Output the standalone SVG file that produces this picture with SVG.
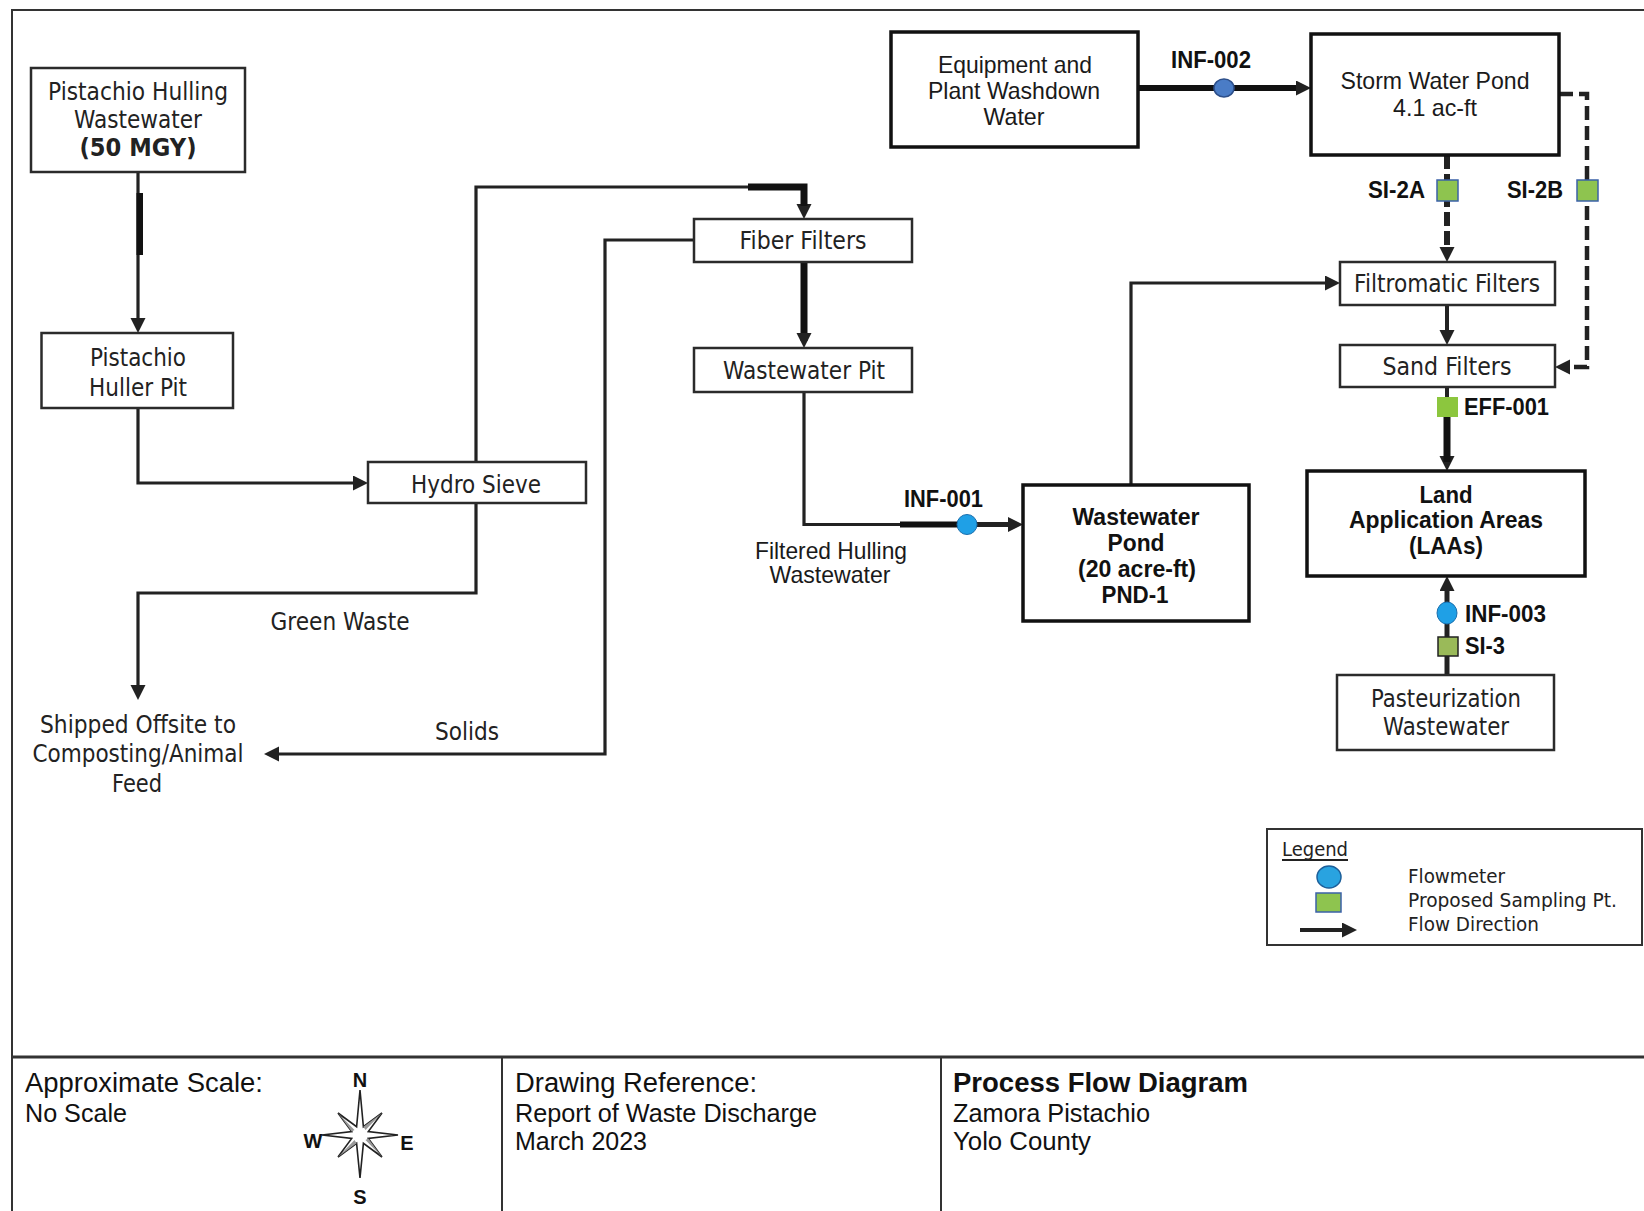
<svg xmlns="http://www.w3.org/2000/svg" width="1644" height="1211" viewBox="0 0 1644 1211">
<style>
.box{fill:#fff;stroke:#2b2b2b;stroke-width:2.5}
.boxb{fill:#fff;stroke:#111;stroke-width:3.5}
.t{font-family:"DejaVu Sans",Verdana,sans-serif;font-size:24px;fill:#222;text-anchor:middle}
.tl{font-family:"DejaVu Sans",Verdana,sans-serif;font-size:20px;fill:#222}
.a{font-family:"Liberation Sans",Arial,sans-serif;font-size:24px;fill:#1a1a1a;text-anchor:middle}
.ab{font-family:"Liberation Sans",Arial,sans-serif;font-size:24px;font-weight:bold;fill:#111;text-anchor:middle}
.abs{font-family:"Liberation Sans",Arial,sans-serif;font-size:24px;font-weight:bold;fill:#111}
.f1{font-family:"Liberation Sans",Arial,sans-serif;font-size:27px;fill:#111}
.f2{font-family:"Liberation Sans",Arial,sans-serif;font-size:25px;fill:#111}
.cp{font-family:"Liberation Sans",Arial,sans-serif;font-size:20px;font-weight:bold;fill:#111;text-anchor:middle}
.ln{fill:none;stroke:#222;stroke-width:3.2;stroke-linejoin:miter}
.th{fill:none;stroke:#111;stroke-width:7}
.frame{fill:none;stroke:#333;stroke-width:2}
.fm1{fill:#4a7cc6;stroke:#2d4f8a;stroke-width:1.5}
.fm2{fill:#1fa0e6;stroke:#1a6fae;stroke-width:1}
.sp{fill:#8ec44f;stroke:#3b62a8;stroke-width:1.5}
</style>
<defs>
<marker id="arr" markerUnits="userSpaceOnUse" markerWidth="16" markerHeight="16" refX="8" refY="7.5" orient="auto">
<path d="M0,0 L15,7.5 L0,15 z" fill="#222"/>
</marker>
</defs>
<rect width="1644" height="1211" fill="#fff"/>
<g id="frame">
<path class="frame" d="M12,1211 V10 H1644"/>
<path fill="none" stroke="#333" stroke-width="3" d="M12,1057 H1644"/>
<path class="frame" d="M502,1057 V1211 M941,1057 V1211"/>
</g>
<g id="connectors">
<path class="ln" d="M138,172 V326" marker-end="url(#arr)"/>
<rect x="136.5" y="193" width="6.5" height="62" fill="#111"/>
<path class="ln" d="M138,408 V483 H361" marker-end="url(#arr)"/>
<path class="ln" d="M476,462 V187 H804 V212" marker-end="url(#arr)"/>
<path class="th" d="M748,187 H804 V206"/>
<path class="ln" d="M476,503 V593 H138 V693" marker-end="url(#arr)"/>
<path class="ln" d="M694,240 H605 V754 H271" marker-end="url(#arr)"/>
<path class="ln" style="stroke-width:7;stroke:#111" d="M804,262 V341" marker-end="url(#arr)"/>
<path class="ln" d="M804,392 V524.5 H1016" marker-end="url(#arr)"/>
<path fill="none" stroke="#111" stroke-width="6" d="M900,524.5 H960"/>
<path fill="none" stroke="#222" stroke-width="5" d="M976,524.5 H1012"/>
<path class="ln" style="stroke-width:6;stroke:#111" d="M1138,88 H1304" marker-end="url(#arr)"/>
<path class="ln" style="stroke-width:6;stroke-dasharray:14,5" d="M1447,155 V255" marker-end="url(#arr)"/>
<path class="ln" style="stroke-width:4.5;stroke-dasharray:14,6" d="M1559,94 H1587 V367 H1562" marker-end="url(#arr)"/>
<path class="ln" d="M1131,485 V283 H1333" marker-end="url(#arr)"/>
<path class="ln" style="stroke-width:4" d="M1447,305 V338" marker-end="url(#arr)"/>
<path class="ln" style="stroke-width:4" d="M1447,387 V464" marker-end="url(#arr)"/>
<path class="th" d="M1447,417 V462"/>
<path class="ln" style="stroke-width:5" d="M1447,675 V583" marker-end="url(#arr)"/>
</g>
<g id="hulling-wastewater">
<rect class="box" x="31" y="68" width="214" height="104"/>
<text class="t" x="138" y="100" textLength="180" lengthAdjust="spacingAndGlyphs">Pistachio Hulling</text>
<text class="t" x="138" y="128" textLength="128" lengthAdjust="spacingAndGlyphs">Wastewater</text>
<text class="t" x="138" y="156" font-weight="bold" textLength="117" lengthAdjust="spacingAndGlyphs">(50 MGY)</text>
</g>
<g id="huller-pit">
<rect class="box" x="41.5" y="333" width="191.5" height="75"/>
<text class="t" x="138" y="366" textLength="96" lengthAdjust="spacingAndGlyphs">Pistachio</text>
<text class="t" x="138" y="396" textLength="98" lengthAdjust="spacingAndGlyphs">Huller Pit</text>
</g>
<g id="hydro-sieve">
<rect class="box" x="368" y="462" width="218" height="41"/>
<text class="t" x="476" y="493" textLength="130" lengthAdjust="spacingAndGlyphs">Hydro Sieve</text>
</g>
<g id="fiber-filters">
<rect class="box" x="694" y="219" width="218" height="43"/>
<text class="t" x="803" y="249" textLength="127" lengthAdjust="spacingAndGlyphs">Fiber Filters</text>
</g>
<g id="wastewater-pit">
<rect class="box" x="694" y="348" width="218" height="44"/>
<text class="t" x="804" y="379" textLength="162" lengthAdjust="spacingAndGlyphs">Wastewater Pit</text>
</g>
<g id="equipment-washdown">
<rect class="boxb" x="891" y="32" width="247" height="115"/>
<text class="a" x="1015" y="73" textLength="154" lengthAdjust="spacingAndGlyphs">Equipment and</text>
<text class="a" x="1014" y="99" textLength="172" lengthAdjust="spacingAndGlyphs">Plant Washdown</text>
<text class="a" x="1014" y="125" textLength="61" lengthAdjust="spacingAndGlyphs">Water</text>
</g>
<g id="storm-water-pond">
<rect class="boxb" x="1311" y="34" width="248" height="121"/>
<text class="a" x="1435" y="89" textLength="189" lengthAdjust="spacingAndGlyphs">Storm Water Pond</text>
<text class="a" x="1435" y="116" textLength="84" lengthAdjust="spacingAndGlyphs">4.1 ac-ft</text>
</g>
<g id="filtromatic-filters">
<rect class="box" x="1340" y="262" width="215" height="43"/>
<text class="t" x="1447" y="292" textLength="186" lengthAdjust="spacingAndGlyphs">Filtromatic Filters</text>
</g>
<g id="sand-filters">
<rect class="box" x="1340" y="345" width="215" height="42"/>
<text class="t" x="1447" y="375" textLength="129" lengthAdjust="spacingAndGlyphs">Sand Filters</text>
</g>
<g id="wastewater-pond">
<rect class="boxb" x="1023" y="485" width="226" height="136"/>
<text class="ab" x="1136" y="525" textLength="127" lengthAdjust="spacingAndGlyphs">Wastewater</text>
<text class="ab" x="1136" y="551" textLength="57" lengthAdjust="spacingAndGlyphs">Pond</text>
<text class="ab" x="1137" y="577" textLength="118" lengthAdjust="spacingAndGlyphs">(20 acre-ft)</text>
<text class="ab" x="1135" y="603" textLength="67" lengthAdjust="spacingAndGlyphs">PND-1</text>
</g>
<g id="land-application-areas">
<rect class="boxb" x="1307" y="471" width="278" height="105"/>
<text class="ab" x="1446" y="503" textLength="53" lengthAdjust="spacingAndGlyphs">Land</text>
<text class="ab" x="1446" y="528" textLength="194" lengthAdjust="spacingAndGlyphs">Application Areas</text>
<text class="ab" x="1446" y="554" textLength="74" lengthAdjust="spacingAndGlyphs">(LAAs)</text>
</g>
<g id="pasteurization-wastewater">
<rect class="box" x="1337" y="675" width="217" height="75"/>
<text class="t" x="1446" y="707" textLength="150" lengthAdjust="spacingAndGlyphs">Pasteurization</text>
<text class="t" x="1446" y="735" textLength="126" lengthAdjust="spacingAndGlyphs">Wastewater</text>
</g>
<g id="shipped-offsite">
<text class="t" x="138" y="733" textLength="196" lengthAdjust="spacingAndGlyphs">Shipped Offsite to</text>
<text class="t" x="138" y="762" textLength="211" lengthAdjust="spacingAndGlyphs">Composting/Animal</text>
<text class="t" x="137" y="792" textLength="50" lengthAdjust="spacingAndGlyphs">Feed</text>
</g>
<g id="labels">
<text class="t" x="340" y="630" textLength="139" lengthAdjust="spacingAndGlyphs">Green Waste</text>
<text class="t" x="467" y="740" textLength="64" lengthAdjust="spacingAndGlyphs">Solids</text>
<text class="a" x="831" y="559" textLength="152" lengthAdjust="spacingAndGlyphs">Filtered Hulling</text>
<text class="a" x="830" y="583" textLength="121" lengthAdjust="spacingAndGlyphs">Wastewater</text>
<text class="ab" x="1211" y="68" textLength="80" lengthAdjust="spacingAndGlyphs">INF-002</text>
<text class="ab" x="943.5" y="507" textLength="79" lengthAdjust="spacingAndGlyphs">INF-001</text>
<text class="ab" x="1396.5" y="198" textLength="57" lengthAdjust="spacingAndGlyphs">SI-2A</text>
<text class="ab" x="1535" y="198" textLength="56" lengthAdjust="spacingAndGlyphs">SI-2B</text>
<text class="abs" x="1464" y="415" textLength="85" lengthAdjust="spacingAndGlyphs">EFF-001</text>
<text class="abs" x="1465" y="622" textLength="81" lengthAdjust="spacingAndGlyphs">INF-003</text>
<text class="abs" x="1465" y="654" textLength="40" lengthAdjust="spacingAndGlyphs">SI-3</text>
</g>
<g id="monitoring-points">
<ellipse class="fm1" cx="1224" cy="88" rx="10" ry="9"/>
<ellipse class="fm2" cx="967" cy="524.5" rx="10" ry="10"/>
<ellipse class="fm2" cx="1447" cy="613" rx="10" ry="11"/>
<rect class="sp" x="1437" y="180" width="21" height="21"/>
<rect class="sp" x="1577" y="180" width="21" height="21"/>
<rect x="1437" y="397" width="21" height="20" fill="#8cc63e"/>
<rect x="1438" y="637" width="20" height="19" fill="#9aba59" stroke="#222" stroke-width="1.5"/>
</g>
<g id="legend">
<rect x="1267" y="829" width="375" height="116" fill="#fff" stroke="#333" stroke-width="2"/>
<text class="tl" x="1282" y="856" font-size="21" textLength="66" lengthAdjust="spacingAndGlyphs">Legend</text>
<path d="M1282,860 H1348" stroke="#222" stroke-width="2"/>
<ellipse cx="1329" cy="877" rx="12" ry="11" fill="#29a3e0" stroke="#1c5f9a" stroke-width="1.5"/>
<rect class="sp" x="1316" y="893" width="25" height="19"/>
<path class="ln" style="stroke-width:4" d="M1300,930 H1350" marker-end="url(#arr)"/>
<text class="tl" x="1408" y="883" textLength="97" lengthAdjust="spacingAndGlyphs">Flowmeter</text>
<text class="tl" x="1408" y="907" textLength="209" lengthAdjust="spacingAndGlyphs">Proposed Sampling Pt.</text>
<text class="tl" x="1408" y="931" textLength="131" lengthAdjust="spacingAndGlyphs">Flow Direction</text>
</g>
<g id="scale-block">
<text class="f1" x="25" y="1092" textLength="238" lengthAdjust="spacingAndGlyphs">Approximate Scale:</text>
<text class="f2" x="25" y="1122" textLength="102" lengthAdjust="spacingAndGlyphs">No Scale</text>
</g>
<g id="compass">
<polygon points="360,1090 363.4,1126.7 382,1113 368.3,1131.6 398,1135 368.3,1138.4 382,1157 363.4,1143.3 360,1178 356.6,1143.3 338,1157 351.7,1138.4 322,1135 351.7,1131.6 338,1113 356.6,1126.7" fill="#fff" stroke="#222" stroke-width="1.6"/>
<polygon points="382,1113 363.4,1126.7 365.5,1130" fill="#999"/>
<polygon points="382,1157 368.3,1138.4 365.5,1140" fill="#999"/>
<polygon points="338,1157 356.6,1143.3 354.5,1140" fill="#999"/>
<polygon points="338,1113 351.7,1131.6 354.5,1130" fill="#999"/>
<text class="cp" x="360" y="1087">N</text>
<text class="cp" x="360" y="1204">S</text>
<text class="cp" x="313" y="1148">W</text>
<text class="cp" x="407" y="1150">E</text>
</g>
<g id="reference-block">
<text class="f1" x="515" y="1092" textLength="242" lengthAdjust="spacingAndGlyphs">Drawing Reference:</text>
<text class="f2" x="515" y="1122" textLength="302" lengthAdjust="spacingAndGlyphs">Report of Waste Discharge</text>
<text class="f2" x="515" y="1150" textLength="132" lengthAdjust="spacingAndGlyphs">March 2023</text>
</g>
<g id="title-block">
<text class="f1" x="953" y="1092" font-weight="bold" textLength="295" lengthAdjust="spacingAndGlyphs">Process Flow Diagram</text>
<text class="f2" x="953" y="1122" textLength="197" lengthAdjust="spacingAndGlyphs">Zamora Pistachio</text>
<text class="f2" x="953" y="1150" textLength="138" lengthAdjust="spacingAndGlyphs">Yolo County</text>
</g>
</svg>
